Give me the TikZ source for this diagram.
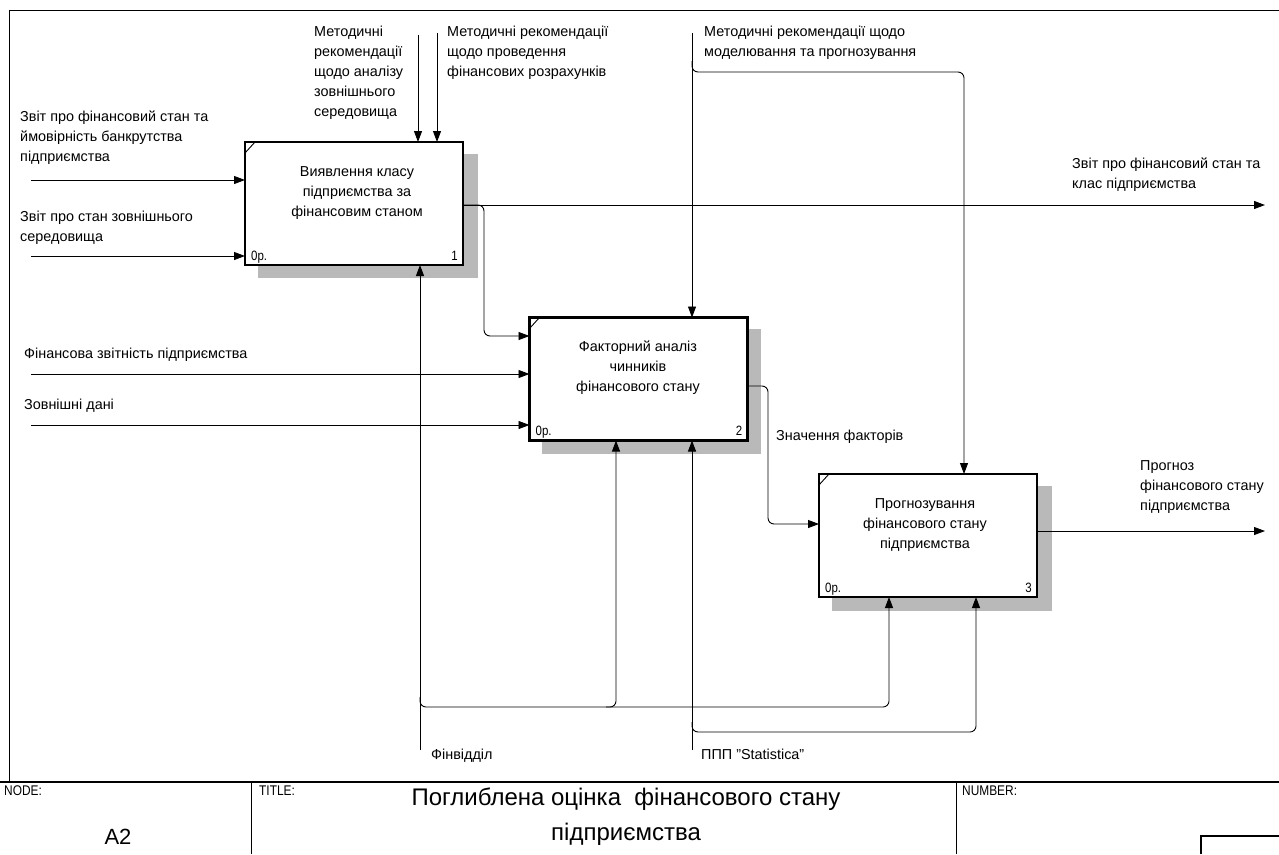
\documentclass[tikz,border=0pt]{standalone}
\usepackage{fontspec}
\setmainfont{Liberation Sans}
\newfontfamily\lab[FakeStretch=0.85]{Liberation Sans}
\usetikzlibrary{arrows.meta,calc}
\begin{document}
\begin{tikzpicture}[x=1pt,y=-1pt,
 lbl/.style={font=\fontsize{14.4}{20}\selectfont, anchor=north west, inner sep=0, align=left},
 box/.style={draw, line width=2.2pt, fill=white, minimum width=218pt, minimum height=123pt, inner sep=0, outer sep=0},
 shade/.style={fill=gray!55, draw=none},
 btxt/.style={font=\fontsize{14.4}{20}\selectfont, align=center, inner sep=0},
 arr/.style={line width=0.9pt, -{Triangle[length=11pt,width=8pt]}},
 ln/.style={line width=0.9pt},
 rc/.style={rounded corners=6pt},
 corner/.style={font=\lab\fontsize{13.5}{14}\selectfont, inner sep=0},
 tb/.style={font=\lab\fontsize{14}{16}\selectfont, inner sep=0, anchor=north west}
]
\useasboundingbox (0,0) rectangle (1279,854);
\fill[white] (0,0) rectangle (1279,854);

% frame and title block
\draw[ln] (9,782) -- (9,10) -- (1279,10);
\draw[line width=1.2pt] (0,782) -- (1279,782);
\draw[ln] (251,782) -- (251,854);
\draw[ln] (956,782) -- (956,854);
\draw[line width=1.2pt] (1279,836) -- (1201,836) -- (1201,854);
\node[tb] (nodelbl) at (4,786) {NODE:};
\node[tb] (titlelbl) at (259,786) {TITLE:};
\node[tb] (numlbl) at (962,786) {NUMBER:};
\node[font=\fontsize{22}{24}\selectfont, inner sep=0] (a2) at (118,837) {A2};
\node[font=\fontsize{24}{35}\selectfont, align=center, inner sep=0] (title) at (626,817) {Поглиблена оцінка \ фінансового стану\\підприємства};

% boxes
\fill[shade] (258,154) rectangle (478,278);
\node[box] (b1) at (354,203.5) {};
\fill[shade] (542,329) rectangle (761,454);
\node[box] (b2) at (638.5,379) {};
\fill[shade] (832,486) rectangle (1052,611);
\node[box] (b3) at (928,535.5) {};

\foreach \b in {b1,b2,b3}{
  \draw[ln] ($(\b.north west)+(0,11)$) -- ($(\b.north west)+(10,0)$);
  \node[corner, anchor=base west] at ($(\b.south west)+(6,-5)$) {0р.};
}
\node[corner, anchor=base east] (n1) at ($(b1.south east)+(-5,-5)$) {1};
\node[corner, anchor=base east] (n2) at ($(b2.south east)+(-5,-5)$) {2};
\node[corner, anchor=base east] (n3) at ($(b3.south east)+(-5,-5)$) {3};

\node[btxt] (t1) at (357,193) {Виявлення класу\\підприємства за\\фінансовим станом};
\node[btxt] (t2) at (638,368) {Факторний аналіз\\чинників\\фінансового стану};
\node[btxt] (t3) at (925,525) {Прогнозування\\фінансового стану\\підприємства};

% inputs
\coordinate (i1) at (31,180);
\coordinate (i2) at (31,256);
\coordinate (i3) at (31,374);
\coordinate (i4) at (31,425);
\draw[arr] (i1) -- (i1 -| b1.west);
\draw[arr] (i2) -- (i2 -| b1.west);
\draw[arr] (i3) -- (i3 -| b2.west);
\draw[arr] (i4) -- (i4 -| b2.west);

% controls
\coordinate (c1) at (418,35);
\coordinate (c2) at (437,33);
\coordinate (c3) at (692,33);
\coordinate (c3b) at (964,72);
\draw[arr] (c1) -- (c1 |- b1.north);
\draw[arr] (c2) -- (c2 |- b1.north);
\draw[arr] (c3) -- (c3 |- b2.north);
\draw[arr,rc] ($(c3)+(0,28)$) -- (c3 |- c3b) -- (c3b) -- (c3b |- b3.north);

% outputs
\coordinate (o1) at (1265,205);
\coordinate (k1) at (484,336);
\draw[arr] (o1 -| b1.east) -- (o1);
\draw[arr,rc] (o1 -| b1.east) -- (k1 |- o1) -- (k1) -- (k1 -| b2.west);
\coordinate (k2) at (768,386);
\coordinate (k2b) at (768,524);
\draw[arr,rc] (k2 -| b2.east) -- (k2) -- (k2b) -- (k2b -| b3.west);
\coordinate (o3) at (1265,531);
\draw[arr] (o3 -| b3.east) -- (o3);

% mechanisms
\coordinate (m1) at (420,750);
\coordinate (m1h) at (616,707);
\coordinate (m1r) at (889,707);
\draw[arr] (m1) -- (m1 |- b1.south);
\draw[arr,rc] (420,697) -- (m1 |- m1h) -- (m1h) -- (m1h |- b2.south);
\draw[arr,rc] ($(m1h)+(-10,0)$) -- (m1r) -- (m1r |- b3.south);
\coordinate (m2) at (692,750);
\coordinate (m2r) at (976,732);
\draw[arr] (m2) -- (m2 |- b2.south);
\draw[arr,rc] (692,722) -- (m2 |- m2r) -- (m2r) -- (m2r |- b3.south);

% labels
\node[lbl] (l1) at (314,26) {Методичні\\рекомендації\\щодо аналізу\\зовнішнього\\середовища};
\node[lbl] (l2) at (447,26) {Методичні рекомендації\\щодо проведення\\фінансових розрахунків};
\node[lbl] (l3) at (704,26) {Методичні рекомендації щодо\\моделювання та прогнозування};
\node[lbl] (l4) at (20,111) {Звіт про фінансовий стан та\\ймовірність банкрутства\\підприємства};
\node[lbl] (l5) at (20,211) {Звіт про стан зовнішнього\\середовища};
\node[lbl] (l6) at (1072,158) {Звіт про фінансовий стан та\\клас підприємства};
\node[lbl] (l7) at (24,348) {Фінансова звітність підприємства};
\node[lbl] (l8) at (24,399) {Зовнішні дані};
\node[lbl] (l9) at (776,430) {Значення факторів};
\node[lbl] (l10) at (1140,460) {Прогноз\\фінансового стану\\підприємства};
\node[lbl] (l11) at (431,749) {Фінвідділ};
\node[lbl] (l12) at (701,749) {ППП "Statistica"};
\end{tikzpicture}
\end{document}
